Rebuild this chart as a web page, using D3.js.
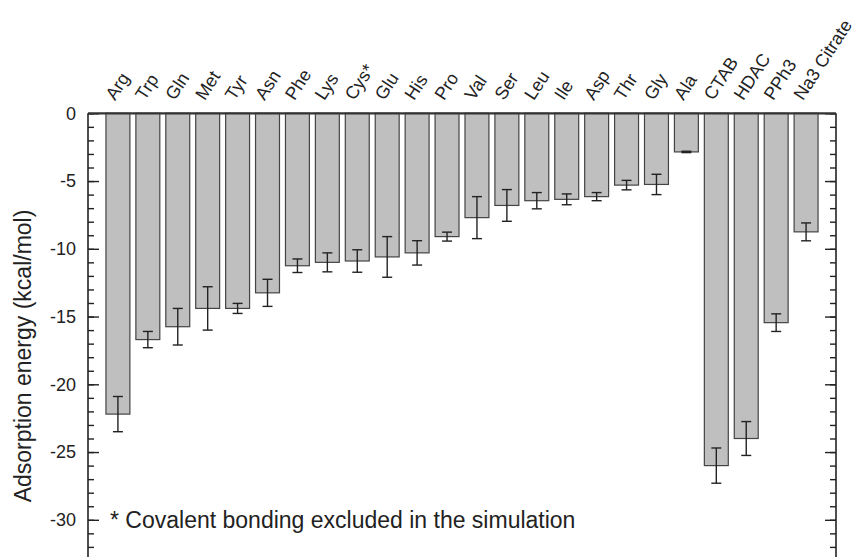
<!DOCTYPE html>
<html>
<head>
<meta charset="utf-8">
<script src="https://cdn.jsdelivr.net/npm/d3@7"></script>
<style>
  html, body { margin: 0; padding: 0; background: #fff; }
  svg { display: block; font-family: "Liberation Sans", Arial, sans-serif; }
</style>
</head>
<body>
<svg id="chart" width="856" height="557"></svg>
<script>
const categories = ["Arg","Trp","Gln","Met","Tyr","Asn","Phe","Lys","Cys*","Glu","His","Pro","Val","Ser","Leu","Ile","Asp","Thr","Gly","Ala","CTAB","HDAC","PPh3","Na3 Citrate"];
const values = [-22.2,-16.7,-15.75,-14.4,-14.4,-13.25,-11.25,-11.0,-10.9,-10.6,-10.3,-9.1,-7.7,-6.8,-6.45,-6.35,-6.15,-5.3,-5.25,-2.85,-26.0,-24.0,-15.45,-8.75];
const errors = [1.3,0.6,1.35,1.6,0.37,1.0,0.5,0.7,0.83,1.5,0.9,0.33,1.55,1.17,0.6,0.4,0.3,0.35,0.75,0.05,1.3,1.25,0.65,0.66];
const majorTicks = [0,-5,-10,-15,-20,-25,-30];
const minorTicks = d3.range(0,-34,-1);
const yTitle = "Adsorption energy (kcal/mol)";
const footnote = "* Covalent bonding excluded in the simulation";

(function () {
const svg = d3.select("#chart");
const mLeft = 88, mRight = 836, mTop = 113.3;
const x = d3.scaleLinear().domain([0, categories.length + 1]).range([mLeft, mRight]);
const y = d3.scaleLinear().domain([0, -33.5]).range([mTop, mTop + 33.5 * 13.55]);
const barW = x(0.8) - x(0);

// bars
svg.append("g").selectAll("rect").data(values).join("rect")
  .attr("x", (d,i) => x(i+1) - barW/2)
  .attr("y", y(0))
  .attr("width", barW)
  .attr("height", d => y(d) - y(0))
  .attr("fill", "#bfbfbf")
  .attr("stroke", "#444")
  .attr("stroke-width", 1.2);

// error bars
const eb = svg.append("g").attr("stroke", "#222").attr("stroke-width", 1.4);
values.forEach((v,i) => {
  const cx = x(i+1), e = errors[i];
  eb.append("line").attr("x1", cx).attr("x2", cx).attr("y1", y(v+e)).attr("y2", y(v-e));
  eb.append("line").attr("x1", cx-5).attr("x2", cx+5).attr("y1", y(v+e)).attr("y2", y(v+e));
  eb.append("line").attr("x1", cx-5).attr("x2", cx+5).attr("y1", y(v-e)).attr("y2", y(v-e));
});

// left axis (ticks inward)
const yl = svg.append("g").attr("transform", `translate(${mLeft},0)`)
  .call(d3.axisRight(y).tickValues(minorTicks).tickSize(6).tickFormat(""));
yl.select(".domain").remove();
const yl2 = svg.append("g").attr("transform", `translate(${mLeft},0)`)
  .call(d3.axisRight(y).tickValues(majorTicks).tickSize(11).tickFormat(""));
yl2.select(".domain").remove();
// right axis (ticks inward)
const yr = svg.append("g").attr("transform", `translate(${mRight},0)`)
  .call(d3.axisLeft(y).tickValues(minorTicks).tickSize(6).tickFormat(""));
yr.select(".domain").remove();
const yr2 = svg.append("g").attr("transform", `translate(${mRight},0)`)
  .call(d3.axisLeft(y).tickValues(majorTicks).tickSize(11).tickFormat(""));
yr2.select(".domain").remove();
svg.selectAll(".tick line").attr("stroke", "#222").attr("stroke-width", 1.4);

// tick labels
svg.append("g").selectAll("text").data(majorTicks).join("text")
  .attr("x", 76).attr("y", d => y(d)).attr("dy", "0.35em")
  .attr("text-anchor", "end").attr("font-size", 18).attr("fill", "#222")
  .text(d => d);

// frame lines
svg.append("line").attr("x1", mLeft).attr("x2", mLeft).attr("y1", mTop).attr("y2", 557)
  .attr("stroke", "#222").attr("stroke-width", 1.6);
svg.append("line").attr("x1", mRight).attr("x2", mRight).attr("y1", mTop).attr("y2", 557)
  .attr("stroke", "#222").attr("stroke-width", 1.6);
svg.append("line").attr("x1", mLeft).attr("x2", mRight).attr("y1", mTop).attr("y2", mTop)
  .attr("stroke", "#333").attr("stroke-width", 2.2);

// category labels
svg.append("g").selectAll("text").data(categories).join("text")
  .attr("transform", (d,i) => `translate(${x(i+1) - 3},${mTop - 12}) rotate(-57)`)
  .attr("font-size", 18).attr("fill", "#222")
  .text(d => d);

// y title
svg.append("text")
  .attr("transform", `translate(31,356) rotate(-90)`)
  .attr("text-anchor", "middle").attr("font-size", 23).attr("fill", "#222")
  .text(yTitle);

// footnote
svg.append("text").attr("x", 110).attr("y", 528)
  .attr("font-size", 23).attr("fill", "#222").text(footnote);
})();
</script>
</body>
</html>
